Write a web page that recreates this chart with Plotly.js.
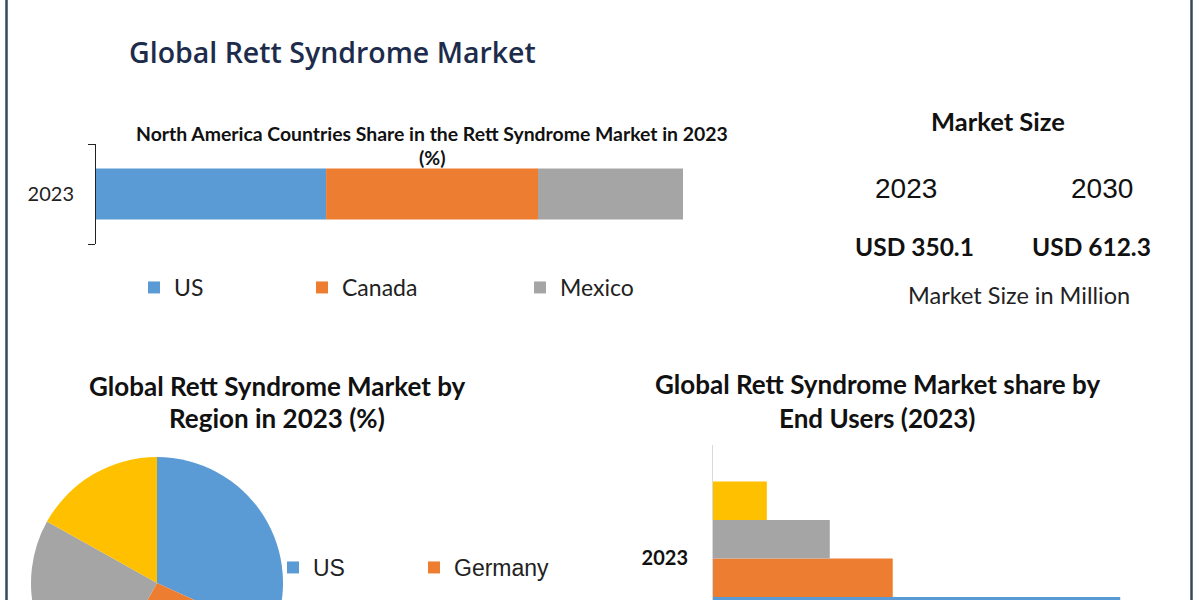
<!DOCTYPE html>
<html>
<head>
<meta charset="utf-8">
<script src="https://cdn.plot.ly/plotly-3.0.1.min.js"></script>
<style>
  html, body { margin:0; padding:0; background:#ffffff; overflow:hidden; }
  #wrap { position:relative; width:1200px; height:600px; overflow:hidden; background:#ffffff; }
  #main, #pie { position:absolute; left:0; top:0; }
  #pie { pointer-events:none; }
</style>
</head>
<body>
<div id="wrap">
  <div id="main"></div>
  <div id="pie"></div>
</div>
<script>
// ---------------- data ----------------
const mainTitle = 'Global Rett Syndrome Market';

const naTitleLine1 = 'North America Countries Share in the Rett Syndrome Market in 2023';
const naTitleLine2 = '(%)';
const naYear = ['2023'];
const naCountries = ['US', 'Canada', 'Mexico'];
const naShares = [39.2, 36.1, 24.7];
const naColors = ['#5b9bd5', '#ed7d31', '#a5a5a5'];

const marketHeading = 'Market Size';
const marketYears = ['2023', '2030'];
const marketValues = [350.1, 612.3];
const marketUnit = 'Market Size in Million';

const regionTitleLines = ['Global Rett Syndrome Market by', 'Region in 2023 (%)'];
const regionLabels = ['US', 'Germany', 'Region 3', 'Region 4'];
const regionShares = [31.8, 26.3, 25.0, 16.9];
const regionColors = ['#5b9bd5', '#ed7d31', '#a5a5a5', '#ffc000'];

const endUserTitleLines = ['Global Rett Syndrome Market share by', 'End Users (2023)'];
const endUserYear = ['2023'];
const endUserLabels = ['End user 1', 'End user 2', 'End user 3', 'End user 4'];
const endUserShares = [53.7, 23.7, 15.4, 7.1];
const endUserColors = ['#5b9bd5', '#ed7d31', '#a5a5a5', '#ffc000'];

// ---------------- helpers ----------------
const W = 1200, H = 600;
const px = x => x / W;
const py = y => 1 - y / H;
const CAL = 'Lato, "Open Sans", sans-serif';
const ARI = '"Liberation Sans", Arial, sans-serif';

// ---------------- main figure ----------------
const traces = [];
let cum = 0;
naCountries.forEach((c, i) => {
  traces.push({
    type: 'bar', orientation: 'h', name: c,
    y: naYear, x: [naShares[i]], base: [cum],
    width: 0.51,
    marker: { color: naColors[i] },
    xaxis: 'x', yaxis: 'y',
    legend: i === 0 ? 'legend' : 'legend' + (i + 1),
    hoverinfo: 'name+x'
  });
  cum += naShares[i];
});

endUserLabels.forEach((n, i) => {
  traces.push({
    type: 'bar', orientation: 'h', name: n,
    y: endUserYear, x: [endUserShares[i]],
    width: 0.25, offset: -0.5 + i * 0.25,
    marker: { color: endUserColors[i] },
    xaxis: 'x2', yaxis: 'y2',
    showlegend: false,
    hoverinfo: 'name+x'
  });
});

const legendBase = {
  orientation: 'h', xanchor: 'left', yanchor: 'top',
  bgcolor: 'rgba(0,0,0,0)',
  font: { family: CAL, size: 23, color: '#222' }
};
const legendLefts = [134, 302, 520];

const annotations = [];
function ann(text, x, y, font, extra) {
  annotations.push(Object.assign({
    text: text, xref: 'paper', yref: 'paper', x: px(x), y: py(y),
    xanchor: 'center', yanchor: 'middle', showarrow: false, font: font
  }, extra || {}));
}
ann(mainTitle, 332, 52, { family: '"Open Sans", sans-serif', size: 28.5, color: '#1d2c4c', weight: 600 });
ann(naTitleLine1, 432, 133, { family: CAL, size: 19.4, color: '#111', weight: 'bold' });
ann(naTitleLine2, 432, 158, { family: CAL, size: 19.4, color: '#111', weight: 'bold' });

ann(marketHeading, 998, 121, { family: CAL, size: 25.5, color: '#111', weight: 'bold' });
const yearX = [906, 1102];
const valueX = [914, 1091];
marketYears.forEach((yr, i) => {
  ann(yr, yearX[i], 189, { family: ARI, size: 28, color: '#111' });
  ann('USD ' + marketValues[i].toFixed(1), valueX[i], 247, { family: CAL, size: 24.5, color: '#111', weight: 'bold' });
});
ann(marketUnit, 1019, 295, { family: CAL, size: 23.5, color: '#222' });

ann(regionTitleLines[0], 277, 386, { family: CAL, size: 26, color: '#111', weight: 'bold' });
ann(regionTitleLines[1], 277, 418, { family: CAL, size: 26, color: '#111', weight: 'bold' });
ann(endUserTitleLines[0], 877, 384, { family: CAL, size: 26, color: '#111', weight: 'bold' });
ann(endUserTitleLines[1], 877, 418, { family: CAL, size: 26, color: '#111', weight: 'bold' });

const layout = {
  width: W, height: H,
  margin: { l: 0, r: 0, t: 0, b: 0, autoexpand: false },
  paper_bgcolor: '#ffffff', plot_bgcolor: 'rgba(0,0,0,0)',
  barmode: 'overlay',
  showlegend: true,
  legend:  Object.assign({}, legendBase, { x: px(legendLefts[0]), y: py(266) }),
  legend2: Object.assign({}, legendBase, { x: px(legendLefts[1]), y: py(266) }),
  legend3: Object.assign({}, legendBase, { x: px(legendLefts[2]), y: py(266) }),
  xaxis: { domain: [px(96), px(683)], range: [0, 100], visible: false, anchor: 'y', fixedrange: true },
  yaxis: {
    domain: [py(244), py(144)], anchor: 'x', type: 'category', range: [-0.5, 0.5],
    showline: true, linecolor: '#222', linewidth: 1,
    ticks: 'outside', tickson: 'boundaries', ticklen: 7, tickcolor: '#222', tickwidth: 1,
    ticklabelstandoff: 17, showgrid: false, zeroline: false,
    tickfont: { family: CAL, size: 20, color: '#222' }, fixedrange: true
  },
  xaxis2: { domain: [px(713), px(1168)], range: [0, 60], visible: false, anchor: 'y2', fixedrange: true },
  yaxis2: {
    domain: [0, py(445)], anchor: 'x2', type: 'category', range: [-0.27, 0.737],
    showline: true, linecolor: '#d9d9d9', linewidth: 1, ticks: '',
    showgrid: false, zeroline: false, ticklabelstandoff: 20,
    tickfont: { family: CAL, size: 20, color: '#111', weight: 'bold' }, fixedrange: true
  },
  annotations: annotations,
  shapes: [
    { type: 'line', xref: 'paper', yref: 'paper', x0: px(6.5), x1: px(6.5), y0: 0, y1: 1, line: { color: '#34495a', width: 2.5 } },
    { type: 'line', xref: 'paper', yref: 'paper', x0: px(1191.5), x1: px(1191.5), y0: 0, y1: 1, line: { color: '#34495a', width: 2.5 } }
  ]
};

Plotly.newPlot('main', traces, layout, { displayModeBar: false, staticPlot: true });

// ---------------- pie figure (own div so its legend wraps after two entries) ----------------
const PW = 600, PH = 760, PR = 310;
const gsW = PW - PR;
const pieTrace = {
  type: 'pie',
  labels: regionLabels.map((l, i) => i < 2 ? l + '<br> ' : l),
  values: regionShares,
  marker: { colors: regionColors, line: { width: 0 } },
  sort: false, direction: 'clockwise', rotation: 0,
  textinfo: 'none', hoverinfo: 'label+percent',
  domain: { x: [31 / gsW, 283 / gsW], y: [1 - 709 / PH, 1 - 457 / PH] }
};
const pieLayout = {
  width: PW, height: PH,
  margin: { l: 0, r: PR, t: 0, b: 0, autoexpand: false },
  paper_bgcolor: 'rgba(0,0,0,0)', plot_bgcolor: 'rgba(0,0,0,0)',
  showlegend: true,
  legend: {
    orientation: 'h', x: 273 / gsW, xanchor: 'left', y: 1 - 546 / PH, yanchor: 'top',
    entrywidth: 96, valign: 'top', bgcolor: 'rgba(0,0,0,0)',
    font: { family: ARI, size: 23, color: '#222' }
  }
};
Plotly.newPlot('pie', [pieTrace], pieLayout, { displayModeBar: false, staticPlot: true });
</script>
</body>
</html>
